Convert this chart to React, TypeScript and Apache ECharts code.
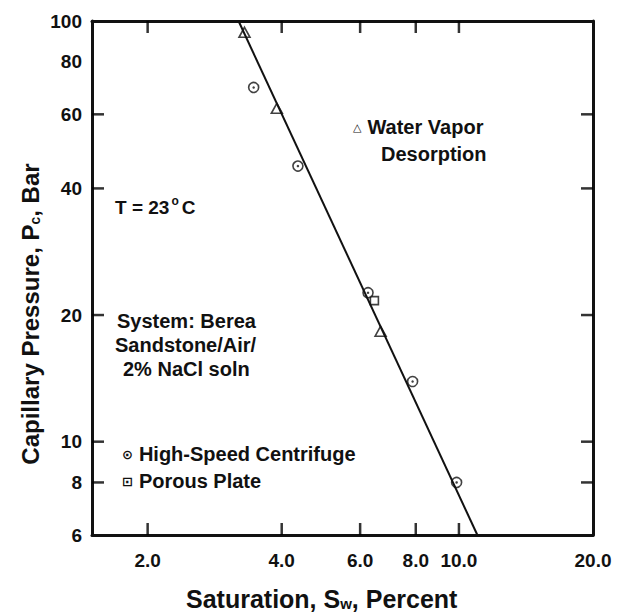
import React, { useEffect, useRef } from "react";
import * as echarts from "echarts";

const xRange = [1.5, 20];
const yRange = [6, 100];
const xTickValues = [2, 4, 6, 8, 10];
const xLabelValues = [2, 4, 6, 8, 10, 20];
const yTickValues = [8, 10, 20, 40, 60];
const yLabelValues = [6, 8, 10, 20, 40, 60, 80, 100];

const waterVapor: [number, number][] = [
  [3.3, 94],
  [3.9, 62],
  [6.67, 18.3],
];
const centrifuge: [number, number][] = [
  [3.46, 69.5],
  [4.35, 45.2],
  [6.25, 22.6],
  [7.87, 13.9],
  [9.88, 8.0],
];
const porousPlate: [number, number][] = [[6.36, 22.0]];
const fitLine: [number, number][] = [
  [3.2, 100],
  [11.0, 6],
];

const FONT = "'Liberation Sans', Arial, Helvetica, sans-serif";
const SYM = "'DejaVu Sans', sans-serif";
const INK = "#111";
const TICK = 12;

export default function App() {
  const ref = useRef<HTMLDivElement>(null);
  useEffect(() => {
    if (!ref.current) return;
    const chart = echarts.init(ref.current, null, { renderer: "svg" });
    const axisLine = { show: true, onZero: false, lineStyle: { color: INK, width: 3 } };
    const labelStyle = { fontFamily: FONT, fontWeight: "bold" as const, fontSize: 19, color: INK };
    const txt = { fontFamily: FONT, fontWeight: "bold" as const, fontSize: 20, color: INK, lineHeight: 20 };
    const note = (text: string, left: number, top: number, rich?: any) => ({
      text,
      left,
      top,
      padding: 0,
      textStyle: rich ? { ...txt, rich } : txt,
    });
    const symRich = {
      c: { fontFamily: SYM, fontSize: 13, color: INK, lineHeight: 20, padding: [0, 6, 0, 0] },
      t: { fontFamily: SYM, fontSize: 11, color: INK, lineHeight: 20, padding: [0, 6, 0, 0] },
      a: { ...txt },
    };
    const tickSeries = (data: number[][], size: number[], offset: number[]) => ({
      type: "scatter",
      data,
      symbol: "rect",
      symbolSize: size,
      symbolOffset: offset,
      clip: false,
      itemStyle: { color: "#000" },
    });
    const plainAxis = {
      splitLine: { show: false },
      axisTick: { show: false },
    };
    chart.setOption({
      animation: false,
      backgroundColor: "#fff",
      grid: [
        { left: 92, top: 21, width: 501, height: 514, containLabel: false },
        { left: 92, top: 100, width: 501, height: 428, containLabel: false },
      ],
      title: [
        note("{a|T = 23}{o|o}{a|C}", 115, 195, {
          a: { ...txt, fontSize: 19, lineHeight: 22, verticalAlign: "bottom" },
          o: { ...txt, fontSize: 12, lineHeight: 22, verticalAlign: "top", padding: [0, 3, 0, 2] },
        }),
        note("{t|△}{a|Water Vapor}", 353, 117, symRich),
        note("Desorption", 381, 144),
        note("System: Berea", 117, 311),
        note("Sandstone/Air/", 115, 335),
        note("2% NaCl soln", 123, 359),
        note("{c|⊙}{a|High-Speed Centrifuge}", 122, 444, symRich),
        note("{c|⊡}{a|Porous Plate}", 122, 471, symRich),
        note("{a|Saturation, S}{s|w}{a|, Percent}", 186, 581, {
          a: { ...txt, fontSize: 25, lineHeight: 30, verticalAlign: "bottom" },
          s: { ...txt, fontSize: 15, lineHeight: 10, verticalAlign: "bottom" },
        }),
      ],
      xAxis: [
        {
          type: "log",
          min: xRange[0],
          max: xRange[1],
          position: "bottom",
          axisLine,
          ...plainAxis,
          axisLabel: {
            ...labelStyle,
            margin: 16,
            customValues: xLabelValues,
            formatter: (v: number) => v.toFixed(1),
          },
        },
        {
          type: "log",
          min: xRange[0],
          max: xRange[1],
          position: "top",
          axisLine,
          ...plainAxis,
          axisLabel: { show: false },
        },
        {
          type: "value",
          gridIndex: 1,
          min: 0,
          max: 1,
          axisLine: { show: false },
          axisLabel: { show: false },
          ...plainAxis,
        },
      ],
      yAxis: [
        {
          type: "log",
          min: yRange[0],
          max: yRange[1],
          position: "left",
          axisLine,
          ...plainAxis,
          axisLabel: {
            ...labelStyle,
            margin: 10,
            customValues: yLabelValues,
            formatter: (v: number) => String(Math.round(v)),
          },
        },
        {
          type: "log",
          min: yRange[0],
          max: yRange[1],
          position: "right",
          axisLine,
          ...plainAxis,
          axisLabel: { show: false },
        },
        {
          type: "value",
          gridIndex: 1,
          min: 0,
          max: 1,
          position: "left",
          axisLine: { show: false },
          axisLabel: { show: false },
          ...plainAxis,
          name: "{a|Capillary Pressure, P}{s|c}{a|, Bar}",
          nameLocation: "middle",
          nameRotate: 90,
          nameGap: 50,
          nameTextStyle: {
            rich: {
              a: { fontFamily: FONT, fontWeight: "bold", fontSize: 24, color: INK, lineHeight: 28, verticalAlign: "bottom" },
              s: { fontFamily: FONT, fontWeight: "bold", fontSize: 14, color: INK, lineHeight: 10, verticalAlign: "bottom" },
            },
          },
        },
      ],
      series: [
        {
          type: "line",
          data: fitLine,
          symbol: "none",
          lineStyle: { color: INK, width: 2 },
        },
        tickSeries(xTickValues.map((v) => [v, yRange[0]]), [2.5, TICK], [0, -TICK / 2]),
        tickSeries(xTickValues.map((v) => [v, yRange[1]]), [2.5, TICK], [0, TICK / 2]),
        tickSeries(yTickValues.map((v) => [xRange[0], v]), [TICK, 2.5], [TICK / 2, 0]),
        tickSeries(yTickValues.map((v) => [xRange[1], v]), [TICK, 2.5], [-TICK / 2, 0]),
        {
          type: "scatter",
          data: waterVapor,
          symbol: "triangle",
          symbolSize: [11, 10],
          itemStyle: { color: "#fff", borderColor: INK, borderWidth: 1.6 },
        },
        {
          type: "scatter",
          data: porousPlate,
          symbol: "rect",
          symbolSize: 8,
          symbolOffset: [3, 3],
          itemStyle: { color: "#fff", borderColor: INK, borderWidth: 1.6 },
        },
        {
          type: "scatter",
          data: centrifuge,
          symbol: "circle",
          symbolSize: 10,
          itemStyle: { color: "#fff", borderColor: INK, borderWidth: 1.6 },
        },
        {
          type: "scatter",
          data: centrifuge,
          symbol: "circle",
          symbolSize: 2.5,
          itemStyle: { color: INK },
        },
      ],
    });
    return () => chart.dispose();
  }, []);
  return <div ref={ref} style={{ width: 633, height: 612, position: "absolute", left: 0, top: 0 }} />;
}
